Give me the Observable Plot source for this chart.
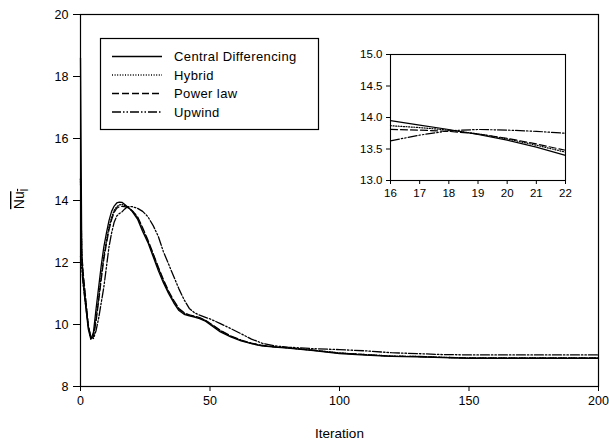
<!DOCTYPE html>
<html>
<head>
<meta charset="utf-8">
<script src="https://cdn.jsdelivr.net/npm/d3@7"></script>
<script src="https://cdn.jsdelivr.net/npm/@observablehq/plot@0.6"></script>
<style>
  body { margin: 0; background: #fff; }
  #wrap { position: relative; width: 609px; height: 447px; }
  #inset { position: absolute; left: 350px; top: 40px; }
</style>
</head>
<body>
<div id="wrap"><div id="main"></div><div id="inset"></div></div>
<script>
// ---- data ----
const seriesNames = ["Central Differencing", "Hybrid", "Power law", "Upwind"];
const iterations = [0,0.5,1,2,3,4,5,6,7,8,9,10,11,12,13,14,15,16,17,18,19,20,22,24,26,28,30,32,34,36,38,40,42,44,46,48,50,54,58,62,66,70,75,80,90,100,110,120,130,140,150,160,170,180,190,200];
const central = [18.6,12.1,11.4,10.6,9.85,9.52,9.75,10.5,11.2,11.9,12.5,12.95,13.35,13.65,13.82,13.92,13.95,13.94,13.88,13.81,13.73,13.64,13.40,13.0,12.65,12.2,11.75,11.35,11.0,10.7,10.45,10.33,10.28,10.24,10.19,10.12,10.0,9.76,9.6,9.47,9.38,9.31,9.27,9.24,9.16,9.06,9.01,8.97,8.96,8.93,8.91,8.91,8.91,8.91,8.91,8.91];
const hybrid = [14.7,12.3,11.6,10.75,9.95,9.55,9.65,10.2,10.85,11.55,12.2,12.7,13.15,13.45,13.68,13.8,13.86,13.87,13.84,13.80,13.74,13.66,13.45,13.08,12.7,12.28,11.83,11.42,11.05,10.75,10.5,10.36,10.3,10.26,10.21,10.14,10.03,9.8,9.62,9.49,9.39,9.32,9.28,9.25,9.17,9.08,9.03,8.98,8.97,8.94,8.92,8.92,8.92,8.92,8.92,8.92];
const powerLaw = [14.7,12.3,11.7,10.85,10.0,9.55,9.6,10.1,10.75,11.45,12.1,12.6,13.05,13.38,13.62,13.75,13.8,13.81,13.80,13.78,13.74,13.67,13.48,13.12,12.73,12.3,11.86,11.45,11.08,10.78,10.52,10.38,10.31,10.27,10.22,10.15,10.04,9.81,9.63,9.5,9.4,9.33,9.28,9.25,9.17,9.08,9.03,8.98,8.97,8.94,8.92,8.92,8.92,8.92,8.92,8.92];
const upwind = [12.2,11.8,11.3,10.6,9.95,9.6,9.55,9.8,10.2,10.7,11.2,11.85,12.5,12.95,13.3,13.5,13.58,13.63,13.72,13.79,13.81,13.80,13.75,13.65,13.48,13.2,12.85,12.35,11.95,11.55,11.15,10.8,10.52,10.38,10.3,10.24,10.18,10.03,9.87,9.7,9.53,9.4,9.31,9.27,9.22,9.19,9.15,9.09,9.06,9.03,9.02,9.02,9.02,9.02,9.02,9.02];

const insetIterations = [16,17,18,19,20,21,22];
const insetCentral = [13.95,13.88,13.81,13.73,13.64,13.53,13.40];
const insetHybrid  = [13.87,13.84,13.80,13.74,13.66,13.56,13.45];
const insetPower   = [13.81,13.80,13.78,13.74,13.67,13.58,13.48];
const insetUpwind  = [13.63,13.72,13.79,13.81,13.80,13.78,13.75];

const xTicks = [0, 50, 100, 150, 200];
const yTicks = [8, 10, 12, 14, 16, 18, 20];
const insetXTicks = [16, 17, 18, 19, 20, 21, 22];
const insetYTicks = [13.0, 13.5, 14.0, 14.5, 15.0];
const xLabel = "Iteration";

// ---- styles ----
const dashes = ["none", "1,1.6", "7,3", "9,2,1.5,2,1.5,2"];
const FONT = "'Liberation Sans', Arial, sans-serif";

function rows(xs, arrays) {
  return seriesNames.flatMap((name, k) => xs.map((x, i) => ({series: name, x, y: arrays[k][i]})));
}
const mainRows = rows(iterations, [central, hybrid, powerLaw, upwind]);
const insetRows = rows(insetIterations, [insetCentral, insetHybrid, insetPower, insetUpwind]);

function lineMarks(data, width) {
  return seriesNames.map((name, k) => Plot.line(data.filter(d => d.series === name), {
    x: "x", y: "y", stroke: "black", strokeWidth: width,
    strokeDasharray: dashes[k] === "none" ? null : dashes[k]
  }));
}

const main = Plot.plot({
  width: 609, height: 447,
  marginLeft: 80, marginRight: 11, marginTop: 14, marginBottom: 61,
  style: {fontFamily: FONT, fontSize: "12.5px", background: "white", color: "black"},
  x: {domain: [0, 200], label: null},
  y: {domain: [8, 20], label: null},
  marks: [
    Plot.axisX({ticks: xTicks, tickSize: 5, tickPadding: 5, label: null}),
    Plot.axisY({ticks: yTicks, tickSize: 7, tickPadding: 5, label: null}),
    ...lineMarks(mainRows, 1.3),
    Plot.frame({stroke: "black", strokeWidth: 1.2}),
    Plot.text([xLabel], {frameAnchor: "bottom", dy: 51, fontSize: 13.5, text: d => d})
  ]
});
document.getElementById("main").appendChild(main);

// y-axis label: overlined Nu with subscript l
const svg = d3.select(main);
const yl = svg.append("text")
  .attr("transform", "translate(24,199) rotate(-90)")
  .attr("text-anchor", "middle")
  .attr("font-size", 14)
  .attr("fill", "black")
  .style("text-decoration", "overline");
yl.append("tspan").text("Nu");
yl.append("tspan").attr("dy", 4).attr("font-size", 11).text("l");

// legend
const lg = svg.append("g").attr("text-anchor", "start");
lg.append("rect").attr("x", 100.5).attr("y", 38.5).attr("width", 218).attr("height", 91)
  .attr("fill", "white").attr("stroke", "black").attr("stroke-width", 1.2);
const rowY = [56.5, 75, 93.5, 112];
seriesNames.forEach((name, k) => {
  lg.append("line").attr("x1", 112).attr("x2", 162).attr("y1", rowY[k]).attr("y2", rowY[k])
    .attr("stroke", "black").attr("stroke-width", 1.3)
    .attr("stroke-dasharray", dashes[k] === "none" ? null : dashes[k]);
  lg.append("text").attr("x", 174).attr("y", rowY[k]).attr("dy", "0.36em")
    .attr("text-anchor", "start")
    .attr("font-size", 13).attr("letter-spacing", "0.4px").attr("fill", "black").text(name);
});

// inset
const inset = Plot.plot({
  width: 230, height: 170,
  marginLeft: 40, marginRight: 15, marginTop: 14, marginBottom: 30,
  style: {fontFamily: FONT, fontSize: "11.5px", background: "transparent", color: "black", overflow: "visible"},
  x: {domain: [16, 22], label: null},
  y: {domain: [13, 15], label: null},
  marks: [
    Plot.axisX({ticks: insetXTicks, tickSize: 4, tickPadding: 4, tickFormat: d3.format("d"), label: null}),
    Plot.axisY({ticks: insetYTicks, tickSize: 4, tickPadding: 4, tickFormat: d3.format(".1f"), label: null}),
    ...lineMarks(insetRows, 1.2),
    Plot.frame({stroke: "black", strokeWidth: 1.1})
  ]
});
document.getElementById("inset").appendChild(inset);
</script>
</body>
</html>
